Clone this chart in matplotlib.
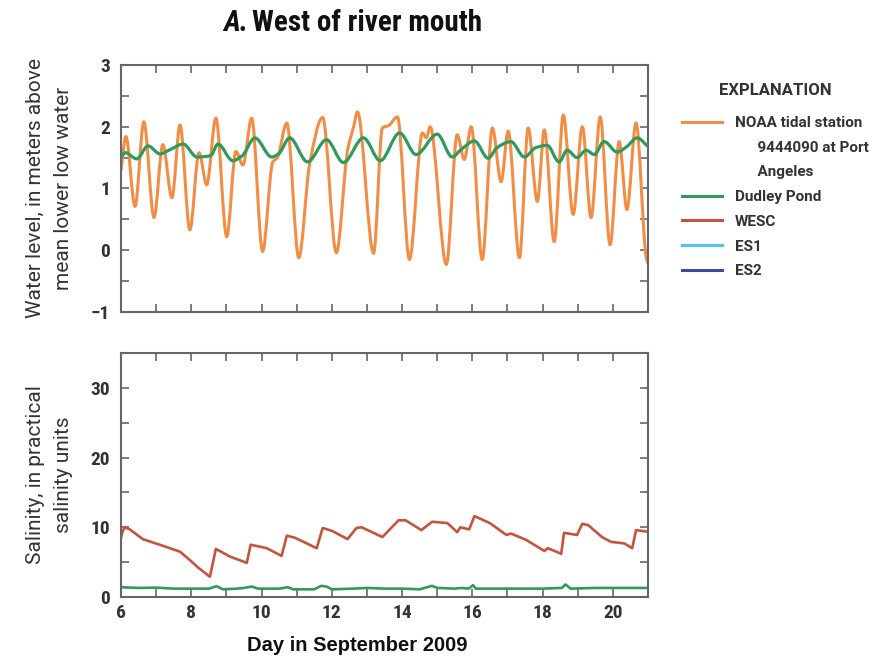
import matplotlib
matplotlib.use("Agg")
import matplotlib.pyplot as plt
from matplotlib import font_manager as fm
from matplotlib.lines import Line2D
from matplotlib.path import Path
from matplotlib.patches import PathPatch
from matplotlib.ticker import MultipleLocator

# ---------------- data ----------------
noaa_day = [6.00, 6.14, 6.40, 6.65, 6.94, 7.19, 7.45, 7.68, 7.96, 8.22, 8.44, 8.70,
            9.01, 9.27, 9.47, 9.72, 10.03, 10.32, 10.45, 10.72, 11.06, 11.37, 11.74,
            12.13, 12.45, 12.62, 12.73, 13.19, 13.44, 13.62, 13.87, 14.21, 14.58,
            14.69, 14.80, 15.26, 15.57, 15.77, 15.97, 16.28, 16.57, 16.82, 17.02,
            17.34, 17.59, 17.85, 18.05, 18.33, 18.59, 18.87, 19.13, 19.38, 19.64,
            19.92, 20.18, 20.40, 20.66, 20.95, 20.99]
noaa_level = [1.30, 1.84, 0.71, 2.08, 0.53, 1.71, 0.85, 2.03, 0.33, 1.58, 1.06, 2.14,
              0.22, 1.60, 1.38, 2.14, -0.02, 1.43, 1.50, 2.06, -0.12, 1.40, 2.15,
              -0.04, 1.62, 2.00, 2.24, -0.05, 1.98, 2.02, 2.16, -0.15, 1.90,
              1.82, 2.00, -0.23, 1.87, 1.47, 2.00, -0.15, 1.98, 1.11, 1.93,
              -0.12, 1.98, 0.79, 1.95, 0.14, 2.19, 0.58, 2.00, 0.53, 2.16,
              0.09, 1.76, 0.66, 2.06, -0.12, -0.20]

dudley_day = [6.00, 6.12, 6.45, 6.77, 7.11, 7.40, 7.77, 8.16, 8.55, 8.76, 9.18, 9.45,
              9.81, 10.29, 10.50, 10.80, 11.31, 11.85, 12.33, 12.90, 13.38, 13.93,
              14.40, 15.00, 15.43, 15.66, 16.06, 16.45, 16.70, 17.10, 17.48, 17.80,
              18.13, 18.47, 18.70, 18.98, 19.24, 19.47, 19.75, 20.12, 20.40, 20.69,
              21.00]
dudley_level = [1.50, 1.58, 1.48, 1.69, 1.56, 1.63, 1.72, 1.51, 1.53, 1.72, 1.45, 1.53,
                1.82, 1.51, 1.57, 1.82, 1.43, 1.79, 1.42, 1.82, 1.45, 1.90,
                1.55, 1.88, 1.51, 1.62, 1.77, 1.49, 1.66, 1.76, 1.51, 1.66,
                1.70, 1.43, 1.62, 1.50, 1.62, 1.55, 1.76, 1.59, 1.68, 1.82,
                1.68]

wesc_day = [6.00, 6.05, 6.12, 6.25, 6.62, 7.10, 7.68, 7.96, 8.20, 8.53, 8.70, 9.10,
            9.58, 9.69, 10.15, 10.57, 10.72, 10.95, 11.57, 11.74, 12.00, 12.45,
            12.70, 12.85, 13.44, 13.90, 14.10, 14.55, 14.86, 15.29, 15.57, 15.66,
            15.91, 16.06, 16.50, 16.97, 17.10, 17.53, 18.05, 18.15, 18.53, 18.61,
            18.98, 19.13, 19.30, 19.69, 19.95, 20.32, 20.55, 20.66, 20.94]
wesc_sal = [8.5, 9.5, 10.0, 9.7, 8.3, 7.5, 6.5, 5.3, 4.2, 2.9, 6.9, 5.8,
            4.9, 7.5, 7.0, 5.9, 8.8, 8.5, 7.0, 9.9, 9.5, 8.3,
            9.9, 10.0, 8.6, 11.0, 11.0, 9.6, 10.8, 10.6, 9.3, 10.0,
            9.7, 11.6, 10.6, 8.9, 9.1, 8.2, 6.6, 7.0, 6.2, 9.2,
            8.9, 10.5, 10.3, 8.6, 7.9, 7.7, 7.0, 9.6, 9.4]

dsal_day = [6.00, 6.50, 7.00, 7.50, 8.00, 8.50, 8.72, 8.90, 9.30, 9.50, 9.72, 9.90,
            10.50, 10.75, 10.90, 11.50, 11.70, 11.85, 12.00, 12.60, 13.00, 13.50,
            14.00, 14.50, 14.85, 15.00, 15.50, 15.70, 15.90, 16.02, 16.10, 17.00,
            18.00, 18.55, 18.65, 18.80, 19.50, 20.50, 21.00]
dsal_sal = [1.4, 1.3, 1.35, 1.2, 1.2, 1.2, 1.55, 1.1, 1.2, 1.3, 1.5, 1.2,
            1.2, 1.4, 1.1, 1.1, 1.6, 1.5, 1.1, 1.2, 1.3, 1.2,
            1.2, 1.1, 1.6, 1.3, 1.2, 1.3, 1.2, 1.7, 1.2, 1.2,
            1.2, 1.3, 1.8, 1.2, 1.3, 1.3, 1.3]

legend_labels = ["NOAA tidal station", "      9444090 at Port", "      Angeles",
                 "Dudley Pond", "WESC", "ES1", "ES2"]
xtick_labels = ["6", "8", "10", "12", "14", "16", "18", "20"]

# ---------------- fonts ----------------
def has_font(name):
    try:
        fm.findfont(fm.FontProperties(family=name), fallback_to_default=False)
        return True
    except Exception:
        return False

COND = "Liberation Sans"
for cand in ["Roboto Condensed", "Liberation Sans Narrow", "DejaVu Sans Condensed"]:
    if has_font(cand):
        COND = cand
        break
FAM = [COND, "DejaVu Sans"]
WIDE = ["Roboto", "DejaVu Sans"]

C_NOAA = "#f28d45"
C_DUD = "#2e9a5c"
C_WESC = "#c4553c"
C_ES1 = "#55c3ef"
C_ES2 = "#3d4c9c"
SPINE = "#666666"


def smooth_line(ax, xs, ys, **kw):
    """Draw a smooth (monotone cubic Bezier) curve through the data points."""
    n = len(xs)
    h = [xs[i + 1] - xs[i] for i in range(n - 1)]
    d = [(ys[i + 1] - ys[i]) / h[i] for i in range(n - 1)]
    m = [0.0] * n
    m[0], m[-1] = d[0], d[-1]
    for k in range(1, n - 1):
        if d[k - 1] * d[k] <= 0:
            m[k] = 0.0
        else:
            w1 = 2 * h[k] + h[k - 1]
            w2 = h[k] + 2 * h[k - 1]
            m[k] = (w1 + w2) / (w1 / d[k - 1] + w2 / d[k])
    verts = [(xs[0], ys[0])]
    codes = [Path.MOVETO]
    for k in range(n - 1):
        verts += [(xs[k] + h[k] / 3, ys[k] + m[k] * h[k] / 3),
                  (xs[k + 1] - h[k] / 3, ys[k + 1] - m[k + 1] * h[k] / 3),
                  (xs[k + 1], ys[k + 1])]
        codes += [Path.CURVE4] * 3
    patch = PathPatch(Path(verts, codes), fill=False, capstyle="round",
                      joinstyle="round", **kw)
    ax.add_patch(patch)
    return patch


fig = plt.figure(figsize=(8.82, 6.61), dpi=100)
W, H = 882, 661
ax1 = fig.add_axes([121 / W, 1 - 312 / H, (648 - 121) / W, (312 - 65) / H])
ax2 = fig.add_axes([121 / W, 1 - 597 / H, (648 - 121) / W, (597 - 353) / H])

smooth_line(ax1, noaa_day, noaa_level, edgecolor=C_NOAA, lw=2.2, zorder=2)
smooth_line(ax1, dudley_day, dudley_level, edgecolor=C_DUD, lw=2.3, zorder=3)
ax2.plot(wesc_day, wesc_sal, color=C_WESC, lw=1.9)
ax2.plot(dsal_day, dsal_sal, color=C_DUD, lw=1.9)

for ax in (ax1, ax2):
    ax.set_xlim(6, 21)
    ax.xaxis.set_major_locator(MultipleLocator(2))
    ax.xaxis.set_minor_locator(MultipleLocator(1))
    ax.tick_params(which="both", direction="in", top=True, right=True,
                   color=SPINE, width=1.2, length=6)
    for s in ax.spines.values():
        s.set_color(SPINE)
        s.set_linewidth(1.5)

ax1.set_ylim(-1, 3)
ax1.yaxis.set_major_locator(MultipleLocator(1))
ax1.yaxis.set_minor_locator(MultipleLocator(0.5))
ax1.tick_params(axis="x", labelbottom=False)
ax1.tick_params(axis="y", pad=8)
for t in ax1.get_yticklabels():
    t.set_family(FAM); t.set_fontweight("bold"); t.set_fontsize(14); t.set_color("#333333")

ax2.set_ylim(0, 35)
ax2.yaxis.set_major_locator(MultipleLocator(10))
ax2.yaxis.set_minor_locator(MultipleLocator(5))
ax2.set_xticks(range(6, 21, 2))
ax2.set_xticklabels(xtick_labels)
ax2.tick_params(axis="y", pad=8)
ax2.tick_params(axis="x", pad=5)
for t in ax2.get_yticklabels() + ax2.get_xticklabels():
    t.set_family(FAM); t.set_fontweight("bold"); t.set_fontsize(14); t.set_color("#333333")

ax1.set_ylabel("Water level, in meters above\nmean lower low water",
               family=WIDE, fontsize=15, color="#333333", linespacing=1.6)
ax1.yaxis.set_label_coords((73 - 121) / 527, 0.5)
ax2.set_ylabel("Salinity, in practical\nsalinity units",
               family=WIDE, fontsize=15, color="#333333", linespacing=1.6)
ax2.yaxis.set_label_coords((73 - 121) / 527, 0.5)
ax2.set_xlabel("Day in September 2009", family=["Liberation Sans", "DejaVu Sans"],
               fontweight="bold", fontsize=14.5, color="#111111")
ax2.xaxis.set_label_coords((357 - 121) / 527, -(636 - 597) / 244)

# title
fig.text(223 / W, 1 - 23 / H, "A.", family=FAM, fontweight="bold", style="italic",
         fontsize=21, color="#111111", ha="left", va="center")
fig.text(252 / W, 1 - 23 / H, "West of river mouth", family=FAM, fontweight="bold",
         fontsize=21, color="#111111", ha="left", va="center")

# legend
blank = Line2D([], [], color="none")
handles = [Line2D([], [], color=C_NOAA, lw=2.2), blank, blank,
           Line2D([], [], color=C_DUD, lw=2.2),
           Line2D([], [], color=C_WESC, lw=2.2),
           Line2D([], [], color=C_ES1, lw=2.2),
           Line2D([], [], color=C_ES2, lw=2.2)]
leg = fig.legend(handles, legend_labels, loc="upper left",
                 bbox_to_anchor=(682 / W, 1 - 83 / H), frameon=False,
                 title="EXPLANATION", handlelength=2.6, handletextpad=0.85,
                 labelspacing=0.70, borderaxespad=0, borderpad=0,
                 prop=fm.FontProperties(family=WIDE, weight="bold", size=11))
leg.get_title().set_fontproperties(fm.FontProperties(family=WIDE, weight="bold", size=12))
leg._legend_box.align = "center"
leg._legend_box.sep = 13
for t in leg.get_texts():
    t.set_color("#333333")
leg.get_title().set_color("#333333")

fig.savefig("out.png", dpi=100)
